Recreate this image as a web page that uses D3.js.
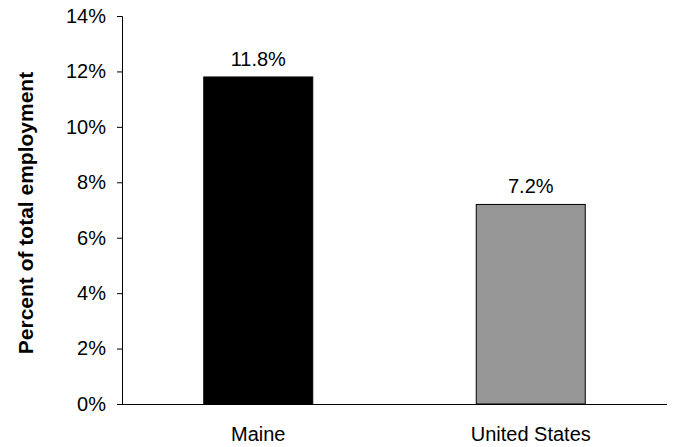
<!DOCTYPE html>
<html>
<head>
<meta charset="utf-8">
<script src="https://cdn.jsdelivr.net/npm/d3@7"></script>
<style>
  html, body { margin: 0; padding: 0; background: #fff; }
  svg { display: block; font-family: Arial, "Liberation Sans", sans-serif; }
</style>
</head>
<body>
<svg id="chart" width="675" height="447"></svg>
<script>
// Share of total employment by region
const regions = ["Maine", "United States"];
const shares = [11.8, 7.2];
const barColors = ["#000000", "#969696"];
const yTicks = [0, 2, 4, 6, 8, 10, 12, 14];
const yTitle = "Percent of total employment";

const FONT = "Arial, 'Liberation Sans', sans-serif";
const svg = d3.select("#chart");
const margin = { left: 122, right: 8, top: 16, bottom: 43 };
const W = 675, H = 447;

const x = d3.scaleBand()
  .domain(regions)
  .range([margin.left, W - margin.right])
  .paddingInner(0.6)
  .paddingOuter(0.3);

const y = d3.scaleLinear()
  .domain([0, 14])
  .range([H - margin.bottom, margin.top]);

// bars
svg.append("g").selectAll("rect")
  .data(regions)
  .join("rect")
  .attr("x", d => x(d))
  .attr("y", (d, i) => y(shares[i]))
  .attr("width", x.bandwidth())
  .attr("height", (d, i) => y(0) - y(shares[i]))
  .attr("fill", (d, i) => barColors[i])
  .attr("stroke", "#000")
  .attr("stroke-width", 1);

// value labels
svg.append("g").selectAll("text")
  .data(regions)
  .join("text")
  .attr("x", d => x(d) + x.bandwidth() / 2)
  .attr("y", (d, i) => y(shares[i]) - 11)
  .attr("text-anchor", "middle")
  .attr("font-size", 20)
  .attr("font-family", FONT)
  .attr("fill", "#000")
  .text((d, i) => shares[i].toFixed(1) + "%");

// y axis
const yAxis = svg.append("g")
  .attr("transform", `translate(${margin.left},0)`)
  .call(d3.axisLeft(y).tickValues(yTicks).tickSize(5).tickPadding(11).tickFormat(d => d + "%"));
yAxis.select(".domain").attr("stroke", "#000");
yAxis.selectAll(".tick line").attr("stroke", "#000");
yAxis.selectAll(".tick text").attr("font-size", 20).attr("fill", "#000").attr("font-family", FONT);

// baseline (x axis)
const xAxis = svg.append("g")
  .attr("transform", `translate(0,${y(0)})`)
  .call(d3.axisBottom(x).tickSize(0));
xAxis.select(".domain").attr("stroke", "#000").attr("d", `M${margin.left},0.5H${W - margin.right}`);
xAxis.selectAll(".tick text")
  .attr("y", 37).attr("dy", 0)
  .attr("font-size", 20).attr("fill", "#000").attr("font-family", FONT);

// y title
svg.append("text")
  .attr("transform", `translate(33,${(margin.top + H - margin.bottom) / 2 + 3}) rotate(-90)`)
  .attr("text-anchor", "middle")
  .attr("font-size", 21)
  .attr("font-weight", "bold")
  .attr("font-family", FONT)
  .attr("fill", "#000")
  .text(yTitle);
</script>
</body>
</html>
